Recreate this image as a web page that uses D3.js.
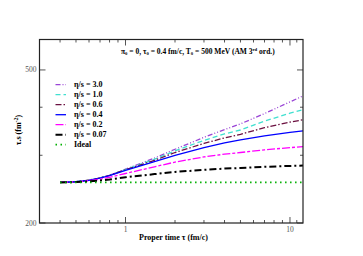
<!DOCTYPE html>
<html><head><meta charset="utf-8">
<script src="https://cdn.jsdelivr.net/npm/d3@7"></script>
<style>body{margin:0;background:#fff}svg{display:block}text{font-family:"Liberation Serif","Times New Roman",serif}</style>
</head><body><svg id="c" width="363" height="256"></svg>
<script>
const tau = [0.4, 0.5, 0.6, 0.7, 0.8, 1.0, 1.5, 2, 3, 4, 5, 7, 10, 12];
const s30 = [255, 256, 258.5, 262, 266, 276, 295, 311, 334, 350, 362, 385, 413, 428];
const s10 = [255, 256, 258.5, 262, 266, 275.5, 293, 308, 328, 341, 349, 368, 386, 394];
const s06 = [255, 256, 258.5, 262, 266, 275, 291, 305, 322, 333, 340, 354, 366, 371];
const s04 = [255, 256, 258.3, 261.5, 265.5, 274, 289, 300, 314, 323, 329, 337, 344, 347];
const s02 = [255, 255.8, 257.5, 260, 263, 269, 280, 288, 297, 302, 305, 310, 314, 316];
const s007 = [255, 255.5, 256.5, 258, 259.5, 263, 268, 271.5, 275, 277, 278, 280, 281.5, 282];
const sIdeal = [255, 255, 255, 255, 255, 255, 255, 255, 255, 255, 255, 255, 255, 255];
const seriesNames = ["η/s = 3.0","η/s = 1.0","η/s = 0.6","η/s = 0.4","η/s = 0.2","η/s = 0.07","Ideal"];
const xTickLabels = [1, 10];
const yTickLabels = [200, 500];

const styles = [
  {c:"#9a45d6", w:1.3, d:"5,2,1,2,1,2"},
  {c:"#40e0d0", w:1.3, d:"5,3"},
  {c:"#6b1040", w:1.3, d:"6,2,1.5,2"},
  {c:"#0000ff", w:1.3, d:null},
  {c:"#ff00ff", w:1.3, d:"8,2,3,2"},
  {c:"#000000", w:2.0, d:"7,3,2,3"},
  {c:"#00b000", w:1.8, d:"1.5,3.5"}
];
const allS = [s30, s10, s06, s04, s02, s007, sIdeal];

const svg = d3.select("#c");
const L=39.5, R=303, T=39.5, B=223;
const x = d3.scaleLog().domain([0.3, 12]).range([L, R]);
const y = d3.scaleLog().domain([200, 600]).range([B, T]);

const line = d3.line().x((d,i)=>x(tau[i])).y(d=>y(d));
allS.forEach((s,k)=>{
  svg.append("path").attr("d", line(s)).attr("fill","none")
    .attr("stroke", styles[k].c).attr("stroke-width", styles[k].w)
    .attr("stroke-dasharray", styles[k].d);
});

const xMinor = [0.4,0.5,0.6,0.7,0.8,0.9,2,3,4,5,6,7,8,9,11];
const yMinor = [300,400];
const tg = svg.append("g").attr("stroke","#555").attr("stroke-width",1);
xTickLabels.forEach(v=>{
  tg.append("line").attr("x1",x(v)).attr("x2",x(v)).attr("y1",B).attr("y2",B-6);
  tg.append("line").attr("x1",x(v)).attr("x2",x(v)).attr("y1",T).attr("y2",T+6);
});
xMinor.forEach(v=>{
  tg.append("line").attr("x1",x(v)).attr("x2",x(v)).attr("y1",B).attr("y2",B-3);
  tg.append("line").attr("x1",x(v)).attr("x2",x(v)).attr("y1",T).attr("y2",T+3);
});
yTickLabels.forEach(v=>{
  tg.append("line").attr("x1",L).attr("x2",L+6).attr("y1",y(v)).attr("y2",y(v));
  tg.append("line").attr("x1",R).attr("x2",R-6).attr("y1",y(v)).attr("y2",y(v));
});
yMinor.forEach(v=>{
  tg.append("line").attr("x1",L).attr("x2",L+3).attr("y1",y(v)).attr("y2",y(v));
  tg.append("line").attr("x1",R).attr("x2",R-3).attr("y1",y(v)).attr("y2",y(v));
});

svg.append("rect").attr("x",L).attr("y",T).attr("width",R-L).attr("height",B-T)
  .attr("fill","none").attr("stroke","#222").attr("stroke-width",1.2);

xTickLabels.forEach(v=>{
  svg.append("text").attr("x",x(v)).attr("y",B+8.5).attr("text-anchor","middle")
    .attr("font-size",7.5).attr("fill","#555").text(v);
});
yTickLabels.forEach(v=>{
  svg.append("text").attr("x",L-3).attr("y",y(v)+2.5).attr("text-anchor","end")
    .attr("font-size",7.5).attr("fill","#555").text(v);
});

svg.append("text").attr("x",173.5).attr("y",240).attr("text-anchor","middle")
  .attr("font-size",8).attr("font-weight","bold").text("Proper time τ (fm/c)");
const yl = svg.append("text").attr("transform","translate(21,130) rotate(-90)")
  .attr("text-anchor","middle").attr("font-size",8).attr("font-weight","bold");
yl.append("tspan").text("τ.s (fm");
yl.append("tspan").attr("dy",-3.5).attr("font-size",6).text("-2");
yl.append("tspan").attr("dy",3.5).text(")");

const tt = svg.append("text").attr("x",121).attr("y",53.5).attr("font-size",7.5).attr("font-weight","bold");
tt.append("tspan").text("π");
tt.append("tspan").attr("dy",1.5).attr("font-size",4.7).text("0");
tt.append("tspan").attr("dy",-1.5).text(" = 0, τ");
tt.append("tspan").attr("dy",1.5).attr("font-size",4.7).text("0");
tt.append("tspan").attr("dy",-1.5).text(" = 0.4 fm/c, T");
tt.append("tspan").attr("dy",1.5).attr("font-size",4.7).text("0");
tt.append("tspan").attr("dy",-1.5).text(" = 500 MeV  (AM 3");
tt.append("tspan").attr("dy",-3).attr("font-size",4.7).text("rd");
tt.append("tspan").attr("dy",3).text(" ord.)");

seriesNames.forEach((n,k)=>{
  const yy = 84.7 + k*10;
  svg.append("line").attr("x1",55.5).attr("x2",66).attr("y1",yy).attr("y2",yy)
    .attr("stroke",styles[k].c).attr("stroke-width",styles[k].w)
    .attr("stroke-dasharray",styles[k].d);
  svg.append("text").attr("x",74).attr("y",yy+2.7).attr("font-size",8)
    .attr("font-weight","bold").text(n);
});
</script></body></html>
